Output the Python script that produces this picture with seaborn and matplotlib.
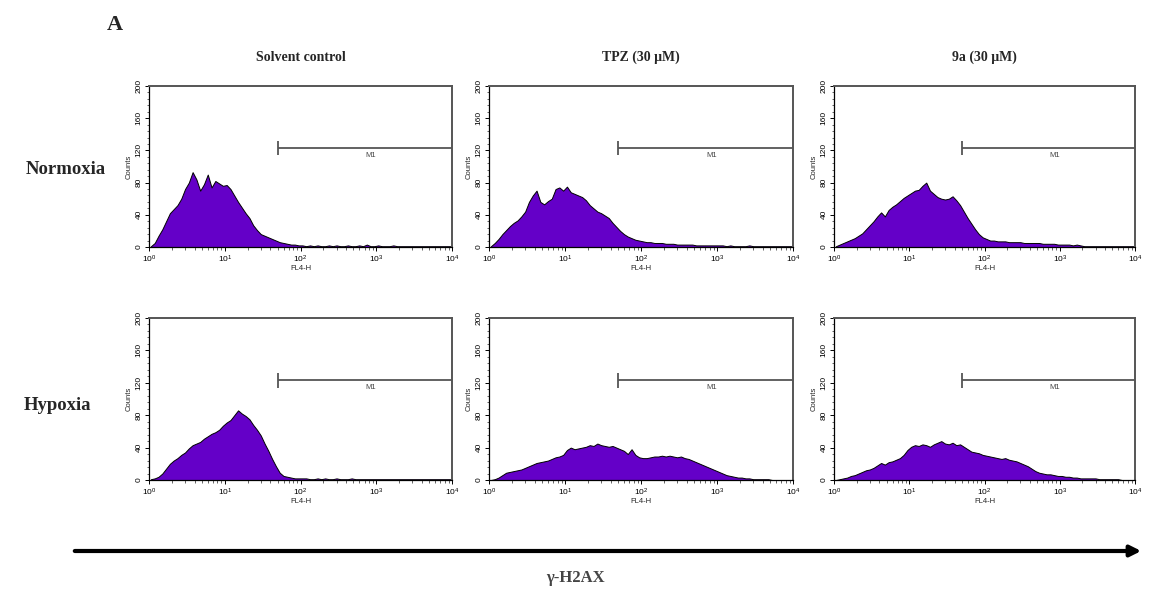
import numpy as np
import pandas as pd
import seaborn as sns
import matplotlib
matplotlib.use("Agg")
from matplotlib import pyplot as plt
from matplotlib.ticker import MultipleLocator, LogLocator, LogFormatterMathtext, NullFormatter

# Histogrammdaten: Counts je 0.05-Dekade von 10^0 bis 10^4 (80 Bins)
bin_width_log = 0.05
normoxia_control = [1, 5, 14, 22, 32, 42, 47, 52, 60, 72, 80, 93, 84, 70, 78, 90, 74, 82, 79, 76,
                    77, 72, 64, 56, 49, 42, 36, 27, 21, 16, 14, 12, 10, 8, 6, 5, 4, 3, 3, 2,
                    2, 1, 2, 1, 2, 1, 1, 2, 1, 2, 1, 1, 2, 1, 1, 2, 1, 3, 1, 1,
                    2, 1, 1, 1, 2, 1, 1, 1, 1, 1, 1, 1, 1, 1, 1, 1, 1, 1, 1, 1]
normoxia_tpz = [1, 5, 10, 16, 21, 26, 30, 33, 38, 44, 56, 64, 70, 56, 53, 57, 60, 72, 74, 70,
                75, 68, 66, 64, 62, 58, 52, 48, 44, 42, 39, 36, 30, 25, 20, 16, 13, 11, 9, 8,
                7, 6, 6, 5, 5, 5, 4, 4, 4, 3, 3, 3, 3, 3, 2, 2, 2, 2, 2, 2,
                2, 2, 1, 2, 1, 1, 1, 1, 2, 1, 1, 1, 1, 1, 1, 1, 1, 1, 1, 1]
normoxia_9a = [1, 3, 5, 7, 9, 11, 14, 17, 22, 27, 32, 38, 43, 38, 46, 50, 53, 57, 61, 64,
               67, 70, 71, 76, 80, 70, 66, 62, 60, 59, 60, 63, 58, 52, 44, 36, 29, 22, 16, 12,
               10, 8, 8, 7, 7, 7, 6, 6, 6, 6, 5, 5, 5, 5, 5, 4, 4, 4, 4, 3,
               3, 3, 3, 2, 3, 2, 1, 1, 1, 1, 1, 1, 1, 1, 1, 1, 1, 1, 1, 1]
hypoxia_control = [1, 2, 4, 8, 14, 20, 24, 27, 31, 34, 39, 43, 45, 47, 51, 54, 57, 59, 62, 67,
                   71, 74, 80, 86, 82, 79, 75, 68, 62, 55, 45, 36, 26, 17, 9, 5, 4, 3, 2, 2,
                   2, 2, 1, 1, 2, 1, 2, 1, 1, 2, 1, 1, 1, 2, 1, 1, 1, 1, 1, 1,
                   1, 1, 1, 1, 1, 1, 1, 1, 1, 1, 1, 1, 1, 1, 1, 1, 1, 1, 1, 1]
hypoxia_tpz = [0, 1, 3, 6, 9, 10, 11, 12, 13, 15, 17, 19, 21, 22, 23, 24, 26, 28, 29, 31,
               37, 40, 38, 39, 40, 41, 43, 42, 45, 43, 42, 41, 42, 40, 38, 36, 32, 38, 31, 28,
               27, 27, 28, 29, 29, 30, 29, 30, 29, 28, 29, 27, 26, 24, 22, 20, 18, 16, 14, 12,
               10, 8, 6, 5, 4, 3, 3, 2, 2, 1, 1, 1, 1, 1, 0, 0, 0, 0, 0, 0]
hypoxia_9a = [0, 1, 2, 3, 5, 6, 8, 10, 12, 13, 15, 18, 21, 19, 22, 23, 25, 27, 31, 37,
              41, 43, 42, 44, 43, 41, 44, 46, 48, 45, 44, 46, 43, 44, 41, 38, 35, 34, 33, 31,
              30, 29, 28, 27, 26, 27, 25, 24, 23, 21, 19, 17, 14, 11, 9, 8, 7, 7, 6, 5,
              5, 4, 4, 3, 3, 2, 2, 2, 2, 2, 1, 1, 1, 1, 1, 1, 0, 0, 0, 0]

conditions = ["Normoxia", "Hypoxia"]
treatments = ["Solvent control", "TPZ (30 μM)", "9a (30 μM)"]
series = [[normoxia_control, normoxia_tpz, normoxia_9a],
          [hypoxia_control, hypoxia_tpz, hypoxia_9a]]
y_ticks = [0, 40, 80, 120, 160, 200]
marker_start = 50      # M1 Gate Beginn
marker_level = 123     # Höhe der M1-Linie (Counts)

sns.set_theme(style="white")
plt.rcParams['font.family'] = ['Liberation Sans', 'DejaVu Sans']

fig = plt.figure(figsize=(11.49, 5.91), dpi=100)
W, H = 1149, 591

col_px = [(149, 452), (489, 793), (834, 1135)]
row_px = [(86, 247), (318, 480)]

purple = "#6400C8"
serif = ['Liberation Serif', 'DejaVu Serif']

for r in range(2):
    for c in range(3):
        x0, x1 = col_px[c]
        y0, y1 = row_px[r]
        ax = fig.add_axes([x0 / W, 1 - y1 / H, (x1 - x0) / W, (y1 - y0) / H])
        counts = np.array(series[r][c], dtype=float)
        centers = 10 ** (np.arange(len(counts)) * bin_width_log + bin_width_log / 2)
        df = pd.DataFrame({"x": centers, "w": counts})
        sns.histplot(data=df, x="x", weights="w", binwidth=bin_width_log, binrange=(0, 4),
                     log_scale=True, element="poly", fill=True, color=purple, alpha=1,
                     edgecolor="black", linewidth=0.7, ax=ax)
        ax.set_xlim(1, 1e4)
        ax.set_ylim(0, 200)
        ax.set_yticks(y_ticks)
        ax.yaxis.set_minor_locator(MultipleLocator(8))
        ax.xaxis.set_major_locator(LogLocator(base=10))
        ax.xaxis.set_major_formatter(LogFormatterMathtext())
        ax.xaxis.set_minor_locator(LogLocator(base=10, subs=np.arange(2, 10)))
        ax.xaxis.set_minor_formatter(NullFormatter())
        ax.tick_params(axis="both", which="major", direction="out", length=3, width=0.7,
                       labelsize=6, pad=1.5, colors="black", left=True, bottom=True)
        ax.tick_params(axis="both", which="minor", direction="out", length=1.8, width=0.5,
                       left=True, bottom=True)
        for lab in ax.get_yticklabels():
            lab.set_rotation(90)
            lab.set_va("center")
        ax.set_xlabel("FL4-H", fontsize=5.5, labelpad=0)
        ax.set_ylabel("Counts", fontsize=5.5, labelpad=2)
        for side in ["left", "bottom"]:
            ax.spines[side].set_color("black")
            ax.spines[side].set_linewidth(0.9)
        for side in ["top", "right"]:
            ax.spines[side].set_color("#555555")
            ax.spines[side].set_linewidth(1.4)
        ax.grid(False)

        # M1 Marker
        ax.hlines(marker_level, marker_start, 1e4, color="#555555", lw=1.3, clip_on=False)
        ax.vlines(marker_start, marker_level - 9, marker_level + 9, color="#555555", lw=1.3)
        ax.text(10 ** 2.93, marker_level - 9, "M1", fontsize=5.5, color="#444444",
                ha="center", va="center")

        if r == 0:
            ax.set_title(treatments[c], fontsize=10, fontweight="bold", family=serif, pad=18)

# Zeilenbeschriftungen
fig.text(66 / W, 1 - 170 / H, conditions[0], fontsize=13.5, fontweight="bold", family=serif,
         ha="center", va="center")
fig.text(57 / W, 1 - 406 / H, conditions[1], fontsize=13.5, fontweight="bold", family=serif,
         ha="center", va="center")
fig.text(115 / W, 1 - 25 / H, "A", fontsize=16, fontweight="bold", family=serif,
         ha="center", va="center")

# Pfeil und Achsentitel unten
fig.patches.append(matplotlib.patches.FancyArrowPatch(
    (72, H - 551), (1144, H - 551), transform=None, arrowstyle="-|>",
    mutation_scale=16, lw=3, color="black", figure=fig))
fig.text(575 / W, 1 - 578 / H, "γ-H2AX", fontsize=12, fontweight="bold", family=serif,
         color="#444444", ha="center", va="center")

fig.savefig("out.png", dpi=100)
